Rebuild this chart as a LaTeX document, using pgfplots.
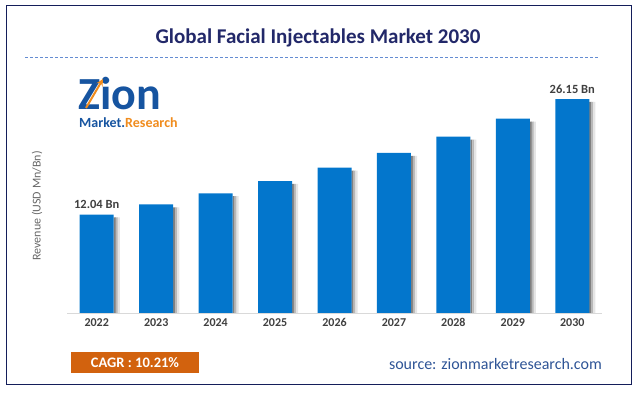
\documentclass[border=0pt]{standalone}
\usepackage{pgfplots}
\pgfplotsset{compat=1.18}
\usepackage{fontspec}
\setmainfont{Carlito}
\definecolor{barblue}{RGB}{3,118,204}
\definecolor{titleblue}{RGB}{34,40,105}
\definecolor{cagr}{RGB}{210,98,14}
\definecolor{srcblue}{RGB}{46,84,150}
\definecolor{navy}{RGB}{20,30,90}
\definecolor{logoblue}{RGB}{22,84,160}
\definecolor{logoorange}{RGB}{240,140,30}
\definecolor{dashblue}{RGB}{100,140,210}
\begin{document}
\begin{tikzpicture}[x=1pt,y=1pt]
\path[use as bounding box] (0,0) rectangle (637,393);
\draw[navy, line width=1pt] (6,8) rectangle (631,387);
\node[font=\bfseries\fontsize{21}{24}\selectfont, text=titleblue] at (318,355) {Global Facial Injectables Market 2030};
\draw[dashblue, line width=0.8pt, dash pattern=on 3pt off 2pt] (25,336) -- (598,336);
% logo
\node[anchor=base west, inner sep=0pt, font=\bfseries\fontsize{46}{46}\selectfont, text=logoblue] at (78,283) {Zion};
\draw[logoorange, line width=2pt, -stealth] (86,285) -- (103,314);
\node[anchor=base west, inner sep=0pt, font=\bfseries\fontsize{14}{15}\selectfont] at (79,265.5) {\textcolor{logoblue}{Market.}\textcolor{logoorange}{Research}};
% y label
\node[rotate=90, font=\fontsize{12}{14}\selectfont, text=black!60] at (37,187) {Revenue (USD Mn/Bn)};
\begin{axis}[
  at={(67pt,80pt)}, anchor=south west,
  scale only axis, width=535pt, height=245.4pt,
  xmin=-0.5, xmax=8.5, ymin=0, ymax=30,
  axis x line*=bottom, axis y line=none,
  x axis line style={-, draw=black!15, line width=0.8pt},
  xtick={0,...,8},
  xticklabels={2022,2023,2024,2025,2026,2027,2028,2029,2030},
  major tick length=0pt,
  xticklabel style={font=\bfseries\fontsize{12}{14}\selectfont, text=black!75, yshift=-2pt},
  clip=false,
]
\addplot[ybar, bar width=2.2pt, bar shift=18pt, draw=none, fill=black!50]
  coordinates {(0,11.7) (1,12.9) (2,14.3) (3,15.8) (4,17.4) (5,19.2) (6,21.2) (7,23.4) (8,25.8)};
\addplot[ybar, bar width=2.2pt, bar shift=20pt, draw=none, fill=black!28]
  coordinates {(0,11.7) (1,12.9) (2,14.3) (3,15.8) (4,17.4) (5,19.2) (6,21.2) (7,23.4) (8,25.8)};
\addplot[ybar, bar width=2.2pt, bar shift=22pt, draw=none, fill=black!10]
  coordinates {(0,11.7) (1,12.9) (2,14.3) (3,15.8) (4,17.4) (5,19.2) (6,21.2) (7,23.4) (8,25.8)};
\addplot[ybar, bar width=34pt, bar shift=0pt, draw=none, fill=barblue,
  nodes near coords, point meta=explicit symbolic,
  every node near coord/.style={font=\bfseries\fontsize{12.5}{14}\selectfont, text=black!75, anchor=south, yshift=2pt}]
  coordinates {(0,12.04) [12.04 Bn] (1,13.27) [] (2,14.62) [] (3,16.11) [] (4,17.76) [] (5,19.57) [] (6,21.57) [] (7,23.77) [] (8,26.15) [26.15 Bn]};
\end{axis}
\node[fill=cagr, text=white, font=\bfseries\fontsize{14.5}{16}\selectfont, minimum width=128pt, minimum height=21pt, inner sep=0pt] at (135,30.5) {CAGR : 10.21\%};
\node[anchor=east, text=srcblue, font=\fontsize{16}{18}\selectfont, inner sep=0pt] at (602,29) {source: zionmarketresearch.com};
\end{tikzpicture}
\end{document}
